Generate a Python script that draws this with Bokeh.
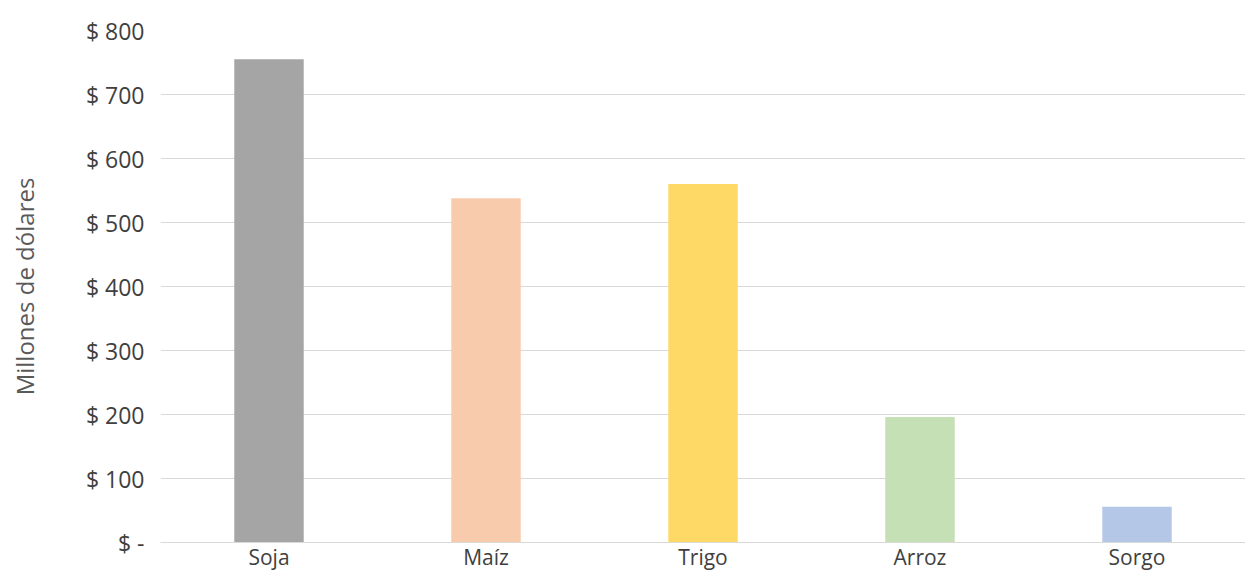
from bokeh.plotting import figure
from bokeh.models import FactorRange, Range1d, FixedTicker, ColumnDataSource
from bokeh.embed import file_html
from bokeh.resources import INLINE

categories = ["Soja", "Maíz", "Trigo", "Arroz", "Sorgo"]
values = [755, 538, 560, 196, 56]
colors = ["#a5a5a5", "#f8cbad", "#ffd966", "#c5e0b4", "#b4c7e7"]
y_ticks = [0, 100, 200, 300, 400, 500, 600, 700, 800]
y_tick_labels = ["$ -", "$ 100", "$ 200", "$ 300", "$ 400", "$ 500", "$ 600", "$ 700", "$ 800"]
y_title = "Millones de dólares"

FONT = "Open Sans"
TXT = "#404040"

source = ColumnDataSource(data=dict(cat=categories, val=values, color=colors))

p = figure(
    x_range=FactorRange(*categories, range_padding=0),
    y_range=Range1d(0, 800),
    frame_width=1085, frame_height=512,
    min_border_left=160, min_border_right=0, min_border_top=30, min_border_bottom=0,
    output_backend="svg", toolbar_location=None,
)
p.outline_line_color = None
p.background_fill_color = "white"

p.vbar(x="cat", top="val", width=0.32, fill_color="color", line_color=None, source=source)

p.xgrid.grid_line_color = None
p.ygrid.grid_line_color = "#d9d9d9"
p.ygrid.grid_line_width = 1

p.yaxis.ticker = FixedTicker(ticks=y_ticks)
p.yaxis.major_label_overrides = {t: l for t, l in zip(y_ticks, y_tick_labels)}
p.yaxis.axis_line_color = None
p.yaxis.major_tick_line_color = None
p.yaxis.minor_tick_line_color = None
p.yaxis.major_tick_out = 0
p.yaxis.major_tick_in = 0
p.yaxis.major_label_standoff = 16
p.yaxis.major_label_text_font = FONT
p.yaxis.major_label_text_font_size = "23px"
p.yaxis.major_label_text_color = TXT
p.yaxis.axis_label = y_title
p.yaxis.axis_label_text_font = FONT
p.yaxis.axis_label_text_font_style = "normal"
p.yaxis.axis_label_text_font_size = "24px"
p.yaxis.axis_label_text_color = "#595959"
p.yaxis.axis_label_standoff = 42

p.xaxis.axis_line_color = "#d9d9d9"
p.xaxis.major_tick_line_color = None
p.xaxis.minor_tick_line_color = None
p.xaxis.major_tick_out = 0
p.xaxis.major_tick_in = 0
p.xaxis.major_label_standoff = 0
p.xaxis.major_label_text_font = FONT
p.xaxis.major_label_text_font_size = "21px"
p.xaxis.major_label_text_color = TXT

open("out.html", "w").write(file_html(p, INLINE))
